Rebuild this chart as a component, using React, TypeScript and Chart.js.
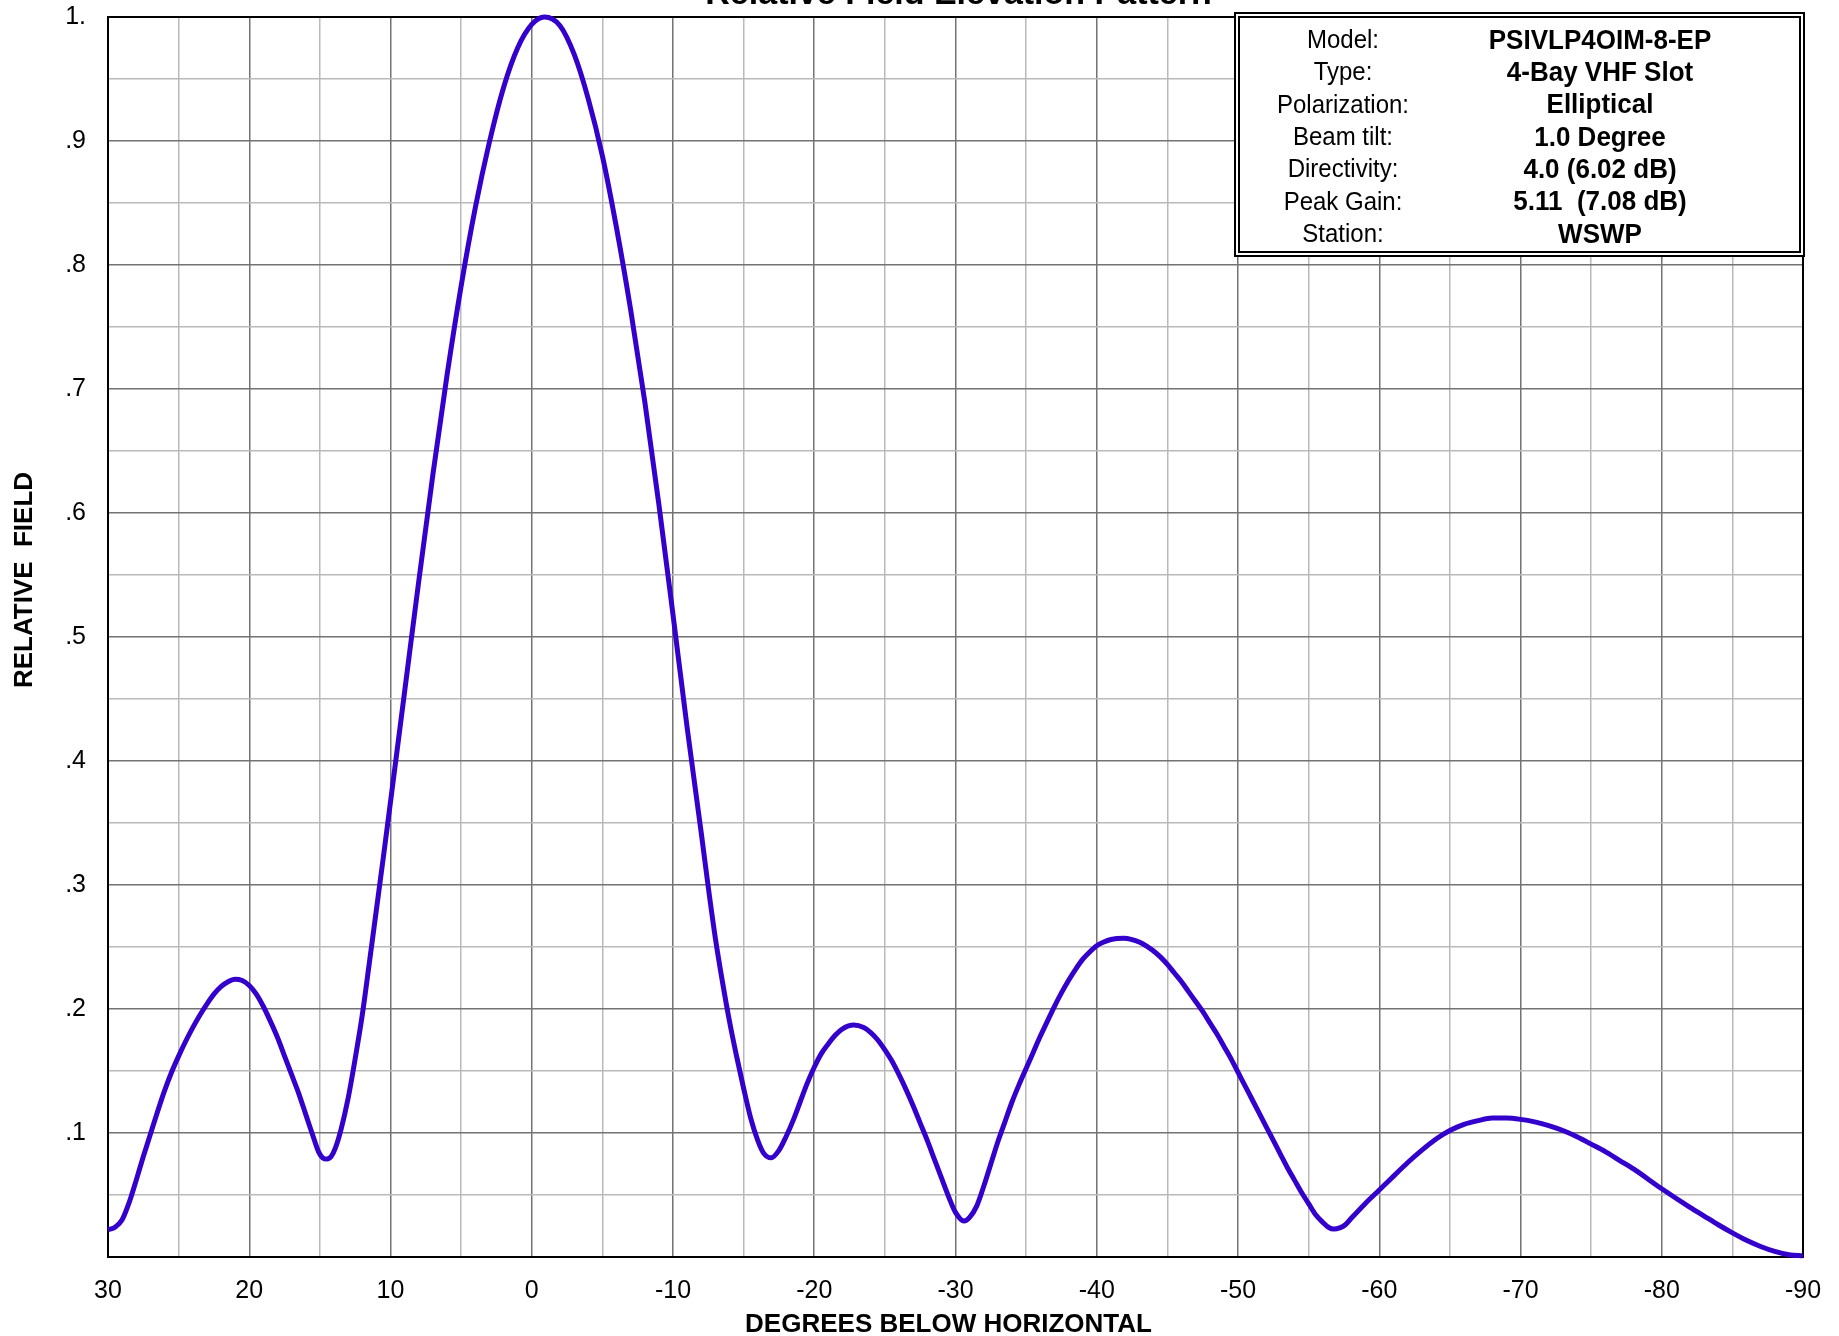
import React, { useEffect, useRef } from 'react';
import { Chart, registerables } from 'chart.js';

Chart.register(...registerables);

const FONT = '"Liberation Sans", Arial, Helvetica, sans-serif';

const chartTitle = 'Relative Field Elevation Pattern';
const xAxisTitle = 'DEGREES BELOW HORIZONTAL';
const yAxisTitle = 'RELATIVE  FIELD';

const infoLabels = ['Model:', 'Type:', 'Polarization:', 'Beam tilt:', 'Directivity:', 'Peak Gain:', 'Station:'];
const infoValues = ['PSIVLP4OIM-8-EP', '4-Bay VHF Slot', 'Elliptical', '1.0 Degree', '4.0 (6.02 dB)', '5.11  (7.08 dB)', 'WSWP'];

// Elevation angle (degrees below horizontal) and relative field
const angles = [
  30, 29.5, 29, 28.5, 28, 27.5, 27, 26.5, 26, 25.5, 25, 24.5, 24, 23.5, 23, 22.5, 22, 21.5, 21, 20.5,
  20, 19.5, 19, 18.5, 18, 17.5, 17, 16.5, 16, 15.5, 15.1, 14.8, 14.5, 14.2, 13.9, 13.5, 13, 12.5, 12, 11.5,
  11, 10.5, 10, 9, 8, 7, 6, 5, 4, 3, 2, 1, 0, -0.9, -2, -3, -4, -5, -6, -7,
  -8, -9, -10, -11, -12, -12.5, -13, -13.5, -14, -14.5, -15, -15.5, -16, -16.4, -16.95, -17.5, -18, -18.5, -19, -19.5,
  -20, -20.5, -21, -21.5, -22, -22.8, -23.5, -24, -24.5, -25, -25.5, -26, -26.5, -27, -27.5, -28, -28.5, -29, -29.5, -30,
  -30.6, -31, -31.5, -32, -32.5, -33, -33.5, -34, -34.5, -35, -35.5, -36, -36.5, -37, -37.5, -38, -38.5, -39, -39.5, -40,
  -40.5, -41, -41.9, -42.5, -43, -43.5, -44, -44.5, -45, -45.5, -46, -46.5, -47, -47.5, -48, -48.5, -49, -49.5, -50, -50.5,
  -51, -51.5, -52, -52.5, -53, -53.5, -54, -54.5, -55, -55.5, -56, -56.4, -56.8, -57.2, -57.6, -58, -59, -60, -61, -62,
  -63, -64, -65, -66, -67, -68, -69, -70, -71, -72, -73, -74, -75, -76, -77, -78, -80, -82, -83, -84,
  -85, -86, -87, -88, -89, -90,
];

const field = [
  0.022, 0.024, 0.03, 0.044, 0.062, 0.081, 0.099, 0.117, 0.134, 0.149, 0.162, 0.174, 0.185, 0.195, 0.204, 0.212, 0.218, 0.222, 0.224, 0.223,
  0.219, 0.212, 0.202, 0.19, 0.177, 0.162, 0.147, 0.132, 0.115, 0.098, 0.085, 0.08, 0.079, 0.081, 0.088, 0.103, 0.128, 0.16, 0.195, 0.237,
  0.28, 0.323, 0.367, 0.456, 0.545, 0.631, 0.711, 0.783, 0.846, 0.899, 0.943, 0.975, 0.994, 1.0, 0.993, 0.97, 0.934, 0.888, 0.83, 0.764,
  0.69, 0.607, 0.518, 0.427, 0.342, 0.298, 0.257, 0.222, 0.19, 0.162, 0.136, 0.112, 0.094, 0.084, 0.08, 0.086, 0.097, 0.11, 0.125, 0.14,
  0.153, 0.164, 0.172, 0.179, 0.184, 0.187, 0.185, 0.181, 0.175, 0.167, 0.158, 0.147, 0.135, 0.122, 0.108, 0.094, 0.079, 0.064, 0.049, 0.036,
  0.029, 0.032, 0.041, 0.057, 0.075, 0.093, 0.109, 0.125, 0.139, 0.152, 0.165, 0.178, 0.19, 0.202, 0.213, 0.223, 0.232, 0.24, 0.246, 0.251,
  0.254, 0.256, 0.257, 0.256, 0.254, 0.251, 0.247, 0.242, 0.236, 0.229, 0.222, 0.214, 0.206, 0.198, 0.189, 0.18, 0.17, 0.16, 0.149, 0.138,
  0.127, 0.116, 0.105, 0.094, 0.083, 0.072, 0.062, 0.052, 0.043, 0.034, 0.028, 0.024, 0.0225, 0.0235, 0.026, 0.031, 0.043, 0.054, 0.065, 0.076,
  0.086, 0.095, 0.102, 0.107, 0.11, 0.112, 0.112, 0.111, 0.109, 0.106, 0.102, 0.097, 0.091, 0.085, 0.078, 0.071, 0.055, 0.04, 0.033, 0.026,
  0.0195, 0.0135, 0.0085, 0.0045, 0.0018, 0.001,
];

const X_MIN = -90;
const X_MAX = 30;
const X_STEP = 5;
const Y_MIN = 0;
const Y_MAX = 1;
const Y_STEP = 0.05;

const MAJOR = '#737373';
const MINOR = '#bababa';

function xLabel(v: number): string {
  return Math.round(v) % 10 === 0 ? String(Math.round(v)) : '';
}

function yLabel(v: number): string {
  const n = Math.round(v * 100);
  if (n === 100) return '1.';
  if (n > 0 && n % 10 === 0) return '.' + n / 10;
  return '';
}

const decorPlugin = {
  id: 'decor',
  beforeDatasetsDraw(chart: any) {
    const { ctx, chartArea: a } = chart;
    ctx.save();
    ctx.strokeStyle = '#000';
    ctx.lineWidth = 2;
    ctx.strokeRect(a.left, a.top, a.right - a.left, a.bottom - a.top);
    ctx.restore();
  },
  afterDatasetsDraw(chart: any) {
    const { ctx, chartArea: a } = chart;
    ctx.save();
    ctx.fillStyle = '#000';
    ctx.textAlign = 'center';

    // title (partially clipped at top)
    ctx.font = `bold 34px ${FONT}`;
    ctx.textBaseline = 'alphabetic';
    ctx.fillText(chartTitle, (a.left + a.right) / 2 + 3, 4);

    // x axis title
    ctx.font = `bold 26px ${FONT}`;
    ctx.textBaseline = 'middle';
    ctx.fillText(xAxisTitle, (a.left + a.right) / 2 - 7, 1325);

    // y axis title
    ctx.save();
    ctx.translate(25, 580);
    ctx.rotate(-Math.PI / 2);
    ctx.fillText(yAxisTitle, 0, 0);
    ctx.restore();

    // info box
    const bx = 1235;
    const by = 13;
    const bw = a.right + 1 - bx;
    const bh = 243;
    ctx.fillStyle = '#fff';
    ctx.fillRect(bx, by, bw, bh);
    ctx.strokeStyle = '#000';
    ctx.lineWidth = 2;
    ctx.strokeRect(bx, by, bw, bh);
    ctx.strokeRect(bx + 4, by + 4, bw - 8, bh - 8);

    ctx.fillStyle = '#000';
    const rowY0 = 41;
    const rowStep = 32.3;
    for (let i = 0; i < infoLabels.length; i++) {
      const y = rowY0 + i * rowStep;
      ctx.save();
      ctx.translate(0, y);
      ctx.scale(1, 1.08);
      ctx.font = `24px ${FONT}`;
      ctx.fillText(infoLabels[i], 1343, 0);
      ctx.font = `bold 26px ${FONT}`;
      ctx.fillText(infoValues[i], 1600, 0);
      ctx.restore();
    }
    ctx.restore();
  },
};

export default function App() {
  const ref = useRef<HTMLCanvasElement | null>(null);

  useEffect(() => {
    if (!ref.current) return;
    const chart = new Chart(ref.current, {
      type: 'line',
      data: {
        datasets: [
          {
            data: angles.map((a, i) => ({ x: a, y: field[i] })),
            borderColor: '#3300cc',
            borderWidth: 5,
            pointRadius: 0,
            fill: false,
            cubicInterpolationMode: 'monotone',
            clip: false as any,
          },
        ],
      },
      options: {
        animation: false,
        responsive: false,
        maintainAspectRatio: false,
        layout: { padding: { top: 17, right: 36, left: 0, bottom: 0 } },
        plugins: {
          legend: { display: false },
          tooltip: { enabled: false },
        },
        scales: {
          x: {
            type: 'linear',
            reverse: true,
            min: X_MIN,
            max: X_MAX,
            ticks: {
              stepSize: X_STEP,
              autoSkip: false,
              maxRotation: 0,
              callback: (v: any) => xLabel(Number(v)),
              font: { size: 25, family: FONT },
              color: '#000',
              padding: 19,
            },
            grid: {
              color: (c: any) => (c.tick && Math.round(c.tick.value) % 10 === 0 ? MAJOR : MINOR),
              lineWidth: 1.5,
              drawTicks: false,
            },
            border: { display: false },
            afterFit: (s: any) => {
              s.height = 79;
              s.paddingLeft = 0;
              s.paddingRight = 0;
            },
          },
          y: {
            type: 'linear',
            min: Y_MIN,
            max: Y_MAX,
            ticks: {
              stepSize: Y_STEP,
              autoSkip: false,
              callback: (v: any) => yLabel(Number(v)),
              font: { size: 25, family: FONT },
              color: '#000',
              padding: 22,
            },
            grid: {
              color: (c: any) => (c.tick && Math.round(c.tick.value * 100) % 10 === 0 ? MAJOR : MINOR),
              lineWidth: 1.5,
              drawTicks: false,
            },
            border: { display: false },
            afterFit: (s: any) => {
              s.width = 108;
              s.paddingTop = 0;
              s.paddingBottom = 0;
            },
          },
        },
      },
      plugins: [decorPlugin],
    } as any);
    return () => chart.destroy();
  }, []);

  return (
    <div style={{ position: 'fixed', left: 0, top: 0, width: 1839, height: 1336, background: '#fff' }}>
      <canvas ref={ref} width={1839} height={1336} style={{ display: 'block', width: 1839, height: 1336 }} />
    </div>
  );
}
